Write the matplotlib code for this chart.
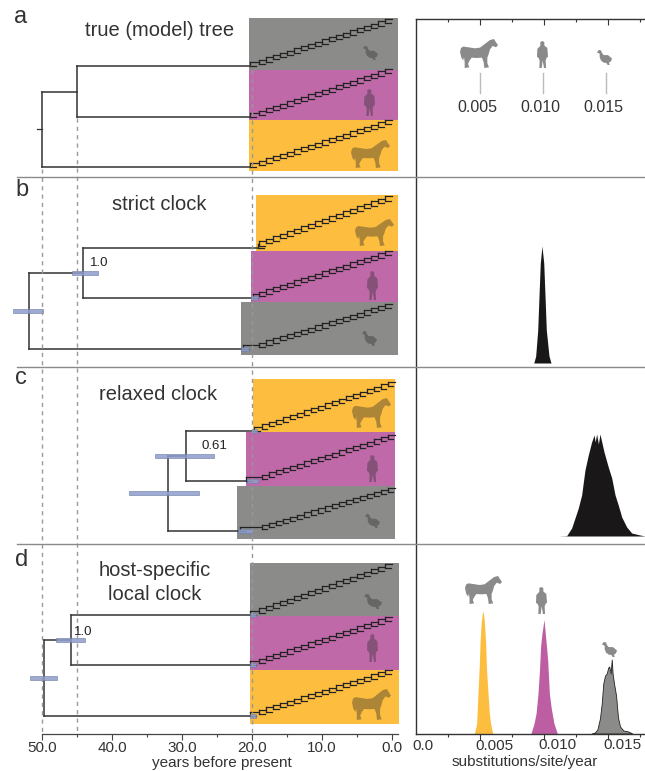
import numpy as np
import matplotlib
matplotlib.use('Agg')
import matplotlib.pyplot as plt
from matplotlib.patches import Polygon, Rectangle

plt.rcParams['font.family'] = ['Liberation Sans', 'DejaVu Sans']

W, H = 645, 771
YELLOW = '#fdbe3f'
PURPLE = '#bf69a9'
GRAY = '#8b8b89'
BAR = '#8e9dcc'
LINE = '#333333'

# ages of the ladder nodes, years before present
ladder_ages = [20, 19, 18, 17, 16, 15, 14, 13, 12, 11, 10, 9, 8, 7, 6, 5, 4, 3, 2, 1]

# clade rows: colour, box left age, box top, box bottom, tip y, ladder top y, first node age
panel_a = [(GRAY, 20.4, 18, 69.5, 66, 21, 20.3), (PURPLE, 20.4, 69.5, 120, 117, 71, 20.3),
           (YELLOW, 20.4, 120, 171, 167, 122, 20.3)]
panel_b = [(YELLOW, 19.4, 195, 251, 248, 198, 19.1), (PURPLE, 20.1, 251, 302, 298, 253, 19.9),
           (GRAY, 21.6, 302, 355, 349, 306, 21.3)]
panel_c = [(YELLOW, 19.9, 379, 432, 431, 384, 19.7), (PURPLE, 20.9, 432, 486, 481, 437, 20.9),
           (GRAY, 22.1, 486, 539, 531, 490, 21.7)]
panel_d = [(GRAY, 20.3, 563, 615.5, 615, 566, 20.3), (PURPLE, 20.3, 615.5, 670, 665, 619, 20.3),
           (YELLOW, 20.3, 670, 724, 716, 672, 20.3)]
box_right = [-0.86, -0.86, -0.43, -1.0]
ladder_shift = [0, 0, 0.4, 0]

# tree nodes: inner age, root age
node_ages = [(45.0, 50.0), (44.1, 51.9), (29.4, 32.0), (45.9, 49.7)]
# credible interval bars: (old, young, y)
hpd_b = [(45.7, 42.0, 273), (54.1, 49.9, 311), (20.2, 19.2, 298), (21.6, 20.4, 349)]
hpd_c = [(33.9, 25.4, 456), (37.6, 27.6, 493), (20.7, 19.1, 481), (22.0, 19.9, 531), (20.0, 19.3, 431)]
hpd_d = [(48.0, 43.9, 640), (51.7, 47.9, 678), (20.3, 19.5, 615), (20.3, 19.5, 665), (20.3, 19.5, 716)]

# rate posteriors: rate and height (pixels of density)
strict_rate = [.00920, .00935, .00951, .00961, .00971, .00984, .00998, .01008, .01018, .01039, .01055]
strict_h = [0, 7, 33, 67, 100, 117, 100, 67, 33, 7, 0]
relaxed_rate = [.01112, .01177, .01216, .01242, .01268, .01294, .0132, .01346, .01372, .01391, .01400,
                .01411, .01425, .01437, .01469, .01502, .01529, .01555, .0158, .01607, .01646, .01685,
                .0175, .01789]
relaxed_h = [0, 0.3, 8, 18, 28, 41, 66, 81, 94, 101, 94, 102, 92, 102, 84, 69, 58, 41, 31, 19, 9, 3, 1, 0]
horse_rate = [.00456, .00474, .00484, .00495, .005, .0051, .00518, .00526, .00534, .00544, .00552,
              .00563, .00573, .00583, .00599]
horse_h = [0, 10, 40, 70, 90, 112, 120, 122, 112, 90, 62, 40, 20, 10, 0]
human_rate = [.00898, .00922, .00938, .00953, .00964, .00974, .00984, .01, .0101, .01021, .01029,
              .01042, .01057, .01078, .01104]
human_h = [0, 10, 20, 40, 62, 88, 100, 114, 100, 85, 73, 40, 25, 10, 0]
duck_rate = [.01372, .01398, .01417, .01437, .01451, .01463, .01477, .0149, .01502, .0151, .01521,
             .01529, .01536, .01547, .01563, .01578, .01594, .0162, .01659, .0169]
duck_h = [0, 1, 4, 15, 30, 50, 58, 60, 66, 67, 60, 74, 60, 50, 38, 16, 7, 3, 2, 0]

year_ticks = [50, 40, 30, 20, 10, 0]
year_labels = ['50.0', '40.0', '30.0', '20.0', '10.0', '0.0']
rate_labels = ['0.0', '0.005', '0.010', '0.015']

# silhouettes, rough outlines
horse_shape = [(100, 80), (115, 82), (135, 85), (150, 83), (165, 72), (180, 61), (192, 58), (197, 66), (204, 76),
               (198, 82), (188, 78), (180, 88), (176, 102), (172, 112), (172, 128), (177, 140), (163, 142),
               (161, 125), (156, 112), (140, 113), (125, 112), (118, 122), (114, 130), (118, 140), (104, 142),
               (104, 125), (102, 110), (100, 120), (94, 112), (90, 95), (93, 84)]
human_shape = [(337, 62), (343, 65), (343, 75), (352, 82), (354, 108), (350, 110), (347, 118), (348, 140),
               (342, 140), (338, 118), (335, 140), (328, 140), (329, 118), (325, 110), (321, 108),
               (322, 85), (331, 76), (331, 65)]
duck_shape = [(502, 98), (507, 91), (514, 92), (517, 100), (522, 106), (535, 106), (547, 116), (544, 124),
              (538, 128), (540, 135), (534, 135), (530, 129), (522, 128), (514, 122), (510, 112), (510, 102)]


def px_axes(fig, x0, y0, x1, y1):
    return fig.add_axes([x0 / W, 1 - y1 / H, (x1 - x0) / W, (y1 - y0) / H])


def draw_ladder(ax, base_age, tip_y, top_y, shift):
    ages = [base_age] + [a - shift for a in ladder_ages[1:]]
    dy = (tip_y - top_y) / len(ages)
    half = 2.1
    for k, age in enumerate(ages):
        c = tip_y - half - k * dy
        next_age = ages[k + 1] if k + 1 < len(ages) else age - 1.0
        ax.plot([age, age], [c - half, c + half], color='#222222', lw=0.9, zorder=3)
        ax.plot([age, next_age], [c - half, c - half], color='#222222', lw=0.9, zorder=3)
        ax.plot([age, age - 0.8], [c + half, c + half], color='#222222', lw=0.9, zorder=3)


def draw_panel(ax, rows, right, shift, nodes, hpd=None):
    for colour, left, top, bottom, tip_y, top_y, first in rows:
        ax.add_patch(Rectangle((left, top), right - left, bottom - top, facecolor=colour,
                               edgecolor='none', zorder=1))
        draw_ladder(ax, first, tip_y, top_y, shift)
    inner, root = nodes
    tips = [r[4] for r in rows]
    firsts = [r[6] for r in rows]
    mid = (tips[0] + tips[1]) / 2
    ax.plot([inner, inner], [tips[0], tips[1]], color=LINE, lw=1.1, zorder=4)
    ax.plot([root, root], [mid, tips[2]], color=LINE, lw=1.1, zorder=4)
    ax.plot([root, inner], [mid, mid], color=LINE, lw=1.1, zorder=4)
    ax.plot([inner, firsts[0]], [tips[0], tips[0]], color=LINE, lw=1.1, zorder=4)
    ax.plot([inner, firsts[1]], [tips[1], tips[1]], color=LINE, lw=1.1, zorder=4)
    ax.plot([root, firsts[2]], [tips[2], tips[2]], color=LINE, lw=1.1, zorder=4)
    if hpd:
        for old, young, y in hpd:
            ax.add_patch(Rectangle((old, y - 2), young - old, 4, facecolor=BAR, edgecolor='#6f7da8',
                                   lw=0.5, alpha=0.85, zorder=5))


def put_icon(ax, shape, x0, y0, x1, y1, colour, alpha=1.0):
    pts = np.array(shape, dtype=float)
    pts[:, 0] = x0 + (pts[:, 0] - pts[:, 0].min()) / np.ptp(pts[:, 0]) * (x1 - x0)
    pts[:, 1] = y0 + (pts[:, 1] - pts[:, 1].min()) / np.ptp(pts[:, 1]) * (y1 - y0)
    ax.add_patch(Polygon(pts, closed=True, facecolor=colour, edgecolor='none', alpha=alpha))


fig = plt.figure(figsize=(W / 100, H / 100), dpi=100)

# tree side, x in years, y in pixels down the page
ax = px_axes(fig, 0, 0, 416, 734)
ax.set_xlim(392 / 7.0, -24 / 7.0)
ax.set_ylim(734, 0)
ax.patch.set_alpha(0)
for side in ['top', 'left', 'right']:
    ax.spines[side].set_visible(False)
ax.spines['bottom'].set_bounds(-0.86, 50)
ax.spines['bottom'].set_color('#444444')
ax.spines['bottom'].set_linewidth(0.9)
ax.set_yticks([])
ax.set_xticks(year_ticks)
ax.set_xticklabels(year_labels, fontsize=11, color='#333333')
ax.set_xticks([45, 35, 25, 15, 5], minor=True)
ax.tick_params(axis='x', which='major', length=4, width=0.8, color='#444444', pad=1)
ax.tick_params(axis='x', which='minor', length=2.5, width=0.8, color='#444444')

draw_panel(ax, panel_a, box_right[0], ladder_shift[0], node_ages[0])
draw_panel(ax, panel_b, box_right[1], ladder_shift[1], node_ages[1], hpd_b)
draw_panel(ax, panel_c, box_right[2], ladder_shift[2], node_ages[2], hpd_c)
draw_panel(ax, panel_d, box_right[3], ladder_shift[3], node_ages[3], hpd_d)
ax.plot([50.7, 50.0], [129, 129], color=LINE, lw=0.9, zorder=4)

# guide lines across the panels
dash = dict(color='#999999', lw=1.0, dashes=(3, 3), zorder=6)
ax.plot([50, 50], [169, 734], **dash)
ax.plot([45, 45], [118, 734], **dash)
ax.plot([20, 20], [70, 734], **dash)

# rate side, y in pixels down the page
axr = px_axes(fig, 416, 19, 645, 734)
axr.set_xlim(0, 229 * 0.005 / 64)
axr.set_ylim(734, 19)
axr.patch.set_alpha(0)
axr.spines['right'].set_visible(False)
for side in ['top', 'bottom', 'left']:
    axr.spines[side].set_color('#333333')
    axr.spines[side].set_linewidth(1.0)
axr.set_yticks([])
axr.set_xticks([0.005, 0.010, 0.015])
axr.set_xticklabels([])
axr.set_xticks([0.0025, 0.0075, 0.0125, 0.0175], minor=True)
axr.tick_params(axis='x', which='major', length=4, width=0.8, color='#333333')
axr.tick_params(axis='x', which='minor', length=2, width=0.8, color='#333333')

# top ticks point inward
top = axr.secondary_xaxis('top')
top.set_xticks([0.005, 0.010, 0.015])
top.set_xticklabels([])
top.set_xticks([0.0025, 0.0075, 0.0125, 0.0175], minor=True)
top.tick_params(axis='x', which='major', direction='in', length=4, width=0.8, color='#333333')
top.tick_params(axis='x', which='minor', direction='in', length=2, width=0.8, color='#333333')
top.spines['top'].set_visible(False)

axr.fill_between(strict_rate, 363, 363 - np.array(strict_h), color='#1a1718', lw=0)
axr.fill_between(relaxed_rate, 536, 536 - np.array(relaxed_h), color='#1a1718', lw=0)
axr.fill_between(horse_rate, 733.5, 733.5 - np.array(horse_h), color=YELLOW, lw=0)
axr.fill_between(human_rate, 733.5, 733.5 - np.array(human_h), color='#bd5ea3', lw=0)
axr.fill_between(duck_rate, 733.5, 733.5 - np.array(duck_h), facecolor=GRAY, edgecolor='#222222', lw=0.6)

# page level things in pixels: text, separators, silhouettes
page = px_axes(fig, 0, 0, W, H)
page.set_xlim(0, W)
page.set_ylim(H, 0)
page.axis('off')

for y in [176.5, 367, 544]:
    page.plot([17, W], [y, y], color='#8a8a8a', lw=1.0)

for x, y, s in zip([21, 22, 21, 22], [17, 190, 378, 560], ['a', 'b', 'c', 'd']):
    page.text(x, y, s, fontsize=17, color='#333333', ha='center', va='center')

titles = ['true (model) tree', 'strict clock', 'relaxed clock', 'host-specific', 'local clock']
for x, y, s in zip([160, 159, 158, 155, 155], [31, 205, 394, 570, 594], titles):
    page.text(x, y, s, fontsize=14.5, color='#333333', ha='center', va='center')

for x, y, s in zip([90, 202, 74], [263, 446, 632], ['1.0', '0.61', '1.0']):
    page.text(x, y, s, fontsize=9.5, color='#222222', ha='left', va='center')

# legend of true rates in panel a
for x, x_text, s in zip([480, 543, 606], [477, 540, 603], ['0.005', '0.010', '0.015']):
    page.plot([x, x], [73, 93], color='#bbbbbb', lw=1.0)
    page.text(x_text, 108, s, fontsize=11.5, color='#333333', ha='center', va='center')

for x, y, s in zip([423, 494, 557, 622], [746, 746, 745, 745], rate_labels):
    page.text(x, y, s, fontsize=11, color='#333333', ha='center', va='center')
page.text(525, 762, 'substitutions/site/year', fontsize=11, color='#333333', ha='center', va='center')
page.text(222, 763, 'years before present', fontsize=11, color='#333333', ha='center', va='center')

LIGHT = '#8a8a8a'
put_icon(page, horse_shape, 460, 39, 498, 68, LIGHT)
put_icon(page, human_shape, 537, 41, 548, 68, LIGHT)
put_icon(page, duck_shape, 597, 50, 612, 65, LIGHT)
put_icon(page, horse_shape, 465, 576, 502, 604, LIGHT)
put_icon(page, human_shape, 536, 587, 547, 614, LIGHT)
put_icon(page, duck_shape, 602, 642, 617, 657, LIGHT)

DARK = '#2a2a2a'
for shape, box in [(duck_shape, (363, 46, 378, 60)), (human_shape, (364, 89, 375, 116)),
                   (horse_shape, (351, 140, 390, 168)), (horse_shape, (355, 219, 394, 246)),
                   (human_shape, (367, 271, 378, 300)), (duck_shape, (362, 331, 377, 346)),
                   (horse_shape, (352, 398, 391, 428)), (human_shape, (367, 455, 378, 482)),
                   (duck_shape, (365, 514, 380, 528)), (duck_shape, (364, 594, 382, 609)),
                   (human_shape, (367, 634, 378, 662)), (horse_shape, (352, 689, 391, 720))]:
    put_icon(page, shape, *box, DARK, alpha=0.38)

plt.savefig('out.png', dpi=100)
